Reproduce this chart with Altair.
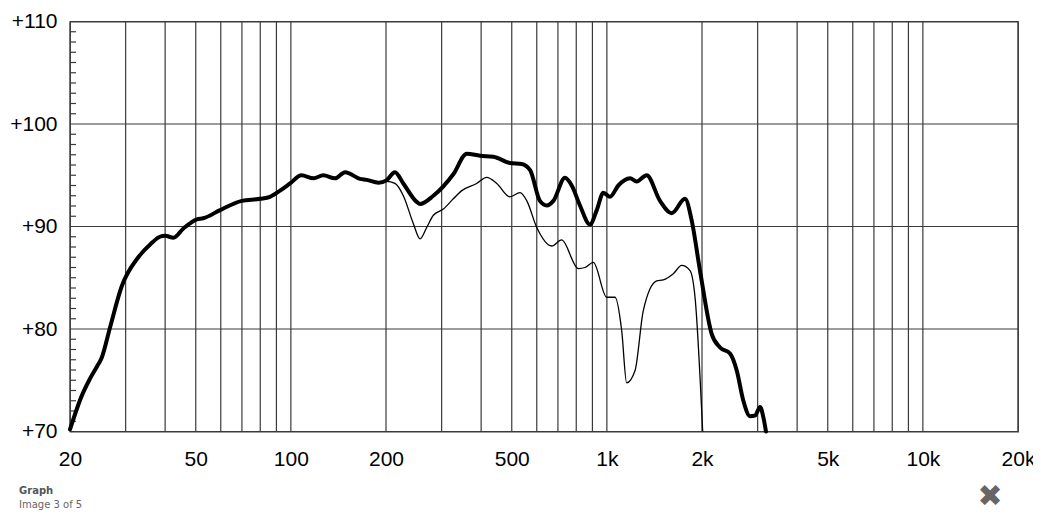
import altair as alt
import pandas as pd

# ---- data ----
thick_freq = [20, 21.8, 23, 24.3, 25.2, 26.8, 29.1, 32.9, 36, 38.5, 40, 42.5, 45.7, 50.4, 52.8,
              59.7, 69.9, 79.9, 85.9, 92.4, 99.4, 108, 118, 126.7, 138, 148.4, 165.5, 173.8,
              189.4, 200.6, 213.5, 226.9, 250.2, 256.3, 282.4, 326.6, 360.3, 396.8, 437.4,
              493.3, 537.4, 571.6, 614, 645, 677, 737, 774, 822, 884, 929, 975, 1023, 1087,
              1184, 1243, 1336, 1473, 1604, 1767, 1855, 1971, 2147, 2281, 2453, 2576, 2703,
              2838, 2944, 3053, 3127, 3188]
thick_db = [70.2, 73.5, 75.0, 76.3, 77.2, 80.2, 84.1, 87.0, 88.3, 89.0, 89.1, 88.9, 89.8, 90.7, 90.8,
            91.6, 92.5, 92.7, 92.9, 93.5, 94.2, 95.0, 94.7, 95.0, 94.7, 95.3, 94.65, 94.55,
            94.26, 94.5, 95.3, 94.2, 92.4, 92.2, 93.0, 95.1, 97.1, 96.9, 96.8,
            96.2, 96.1, 95.5, 92.5, 92.05, 92.5, 94.75, 94.0, 92.05, 90.2, 91.6, 93.3, 92.9, 94.0,
            94.7, 94.4, 95.0, 92.5, 91.3, 92.7, 90.6, 85.7, 79.5, 78.2, 77.6, 75.95, 73.0,
            71.5, 71.56, 72.4, 71.4, 70.0]

thin_freq = [189.4, 200.6, 213.5, 226.9, 244, 256.3, 269, 282.4, 303.7, 326.6, 347.4, 387.3,
             416.6, 448.3, 493.3, 531, 558, 600, 669, 719, 812, 853, 906, 999, 1061, 1114,
             1155, 1228, 1304, 1438, 1508, 1623, 1725, 1833, 1901, 2010]
thin_db = [94.26, 94.4, 94.2, 93.0, 90.3, 88.8, 89.9, 91.1, 91.7, 92.7, 93.5, 94.2,
           94.8, 94.2, 92.9, 93.3, 92.5, 89.9, 88.1, 88.7, 85.9, 86.0, 86.5, 83.1, 83.1, 79.85,
           74.75, 75.95, 81.8, 84.7, 84.8, 85.4, 86.2, 85.7, 83.1, 70.0]

x_grid = [20, 30, 40, 50, 60, 70, 80, 90, 100, 200, 300, 400, 500, 600, 700, 800, 900,
          1000, 2000, 3000, 4000, 5000, 6000, 7000, 8000, 9000, 10000, 20000]
y_grid = [70, 80, 90, 100, 110]
y_minor = [71, 72, 73, 74, 75, 76, 77, 78, 79, 81, 82, 83, 84, 85, 86, 87, 88, 89,
           91, 92, 93, 94, 95, 96, 97, 98, 99, 101, 102, 103, 104, 105, 106, 107, 108, 109]
x_tick_values = [20, 50, 100, 200, 500, 1000, 2000, 5000, 10000, 20000]
x_tick_labels = ["20", "50", "100", "200", "500", "1k", "2k", "5k", "10k", "20k"]
y_tick_values = [70, 80, 90, 100, 110]
y_tick_labels = ["+70", "+80", "+90", "+100", "+110"]
footer_title = ["Graph"]
footer_sub = ["Image 3 of 5"]
close_icon = ["\u2716"]


def label_expr(values, labels):
    expr = "''"
    for v, l in reversed(list(zip(values, labels))):
        expr = f"(abs(datum.value - {v}) < 0.001 ? '{l}' : {expr})"
    return expr


GRID = "#3a3a3a"
FONT = "Liberation Sans"

xscale = alt.Scale(type="log", domain=[20, 20000], nice=False)
yscale = alt.Scale(domain=[70, 110], nice=False, zero=False)

x_axis = alt.Axis(values=x_tick_values, labelExpr=label_expr(x_tick_values, x_tick_labels),
                  domain=False, ticks=False, grid=False, title=None, labelFont=FONT,
                  labelFontSize=21, labelColor="black", labelPadding=17, labelFlush=False,
                  labelOverlap=False, labelBaseline="top")
y_axis = alt.Axis(values=y_tick_values, labelExpr=label_expr(y_tick_values, y_tick_labels),
                  domain=False, ticks=False, grid=False, title=None, labelFont=FONT,
                  labelFontSize=21, labelColor="black", labelPadding=13, labelFlush=False,
                  labelOverlap=False, labelBaseline="middle")


def X():
    return alt.X("f:Q", scale=xscale, axis=x_axis)


def Y():
    return alt.Y("db:Q", scale=yscale, axis=y_axis)


df_thick = pd.DataFrame({"f": thick_freq, "db": thick_db})
df_thin = pd.DataFrame({"f": thin_freq, "db": thin_db})

thick = alt.Chart(df_thick).mark_line(color="black", strokeWidth=4, interpolate="monotone",
                                      strokeJoin="round", strokeCap="round").encode(x=X(), y=Y())
vgrid = alt.Chart(pd.DataFrame({"f": x_grid})).mark_rule(color=GRID, strokeWidth=1.2).encode(x=X())
hgrid = alt.Chart(pd.DataFrame({"db": y_grid})).mark_rule(color=GRID, strokeWidth=1.2).encode(y=Y())
minor = alt.Chart(pd.DataFrame({"db": y_minor})).mark_rule(color=GRID, strokeWidth=1.2).encode(
    y=Y(), x=alt.value(0), x2=alt.value(6))
thin = alt.Chart(df_thin).mark_line(color="black", strokeWidth=1.3, interpolate="monotone").encode(
    x=X(), y=Y())

t1 = alt.Chart(pd.DataFrame({"t": footer_title})).mark_text(
    align="left", baseline="middle", font="DejaVu Sans", fontSize=10, fontWeight="bold",
    color="#555555").encode(x=alt.value(-51), y=alt.value(469), text="t:N")
t2 = alt.Chart(pd.DataFrame({"t": footer_sub})).mark_text(
    align="left", baseline="middle", font="DejaVu Sans", fontSize=10,
    color="#666666").encode(x=alt.value(-51), y=alt.value(483.5), text="t:N")
icon = alt.Chart(pd.DataFrame({"t": close_icon})).mark_text(
    align="center", baseline="middle", font="DejaVu Sans", fontSize=30,
    color="#666666").encode(x=alt.value(920), y=alt.value(475), text="t:N")

chart = alt.layer(vgrid, hgrid, minor, thin, thick, t1, t2, icon).properties(
    width=948, height=410,
    autosize=alt.AutoSizeParams(type="none"),
    padding={"left": 62, "top": 13.5, "right": 15, "bottom": 80},
    background="white",
).configure_view(stroke=GRID, strokeWidth=1.2)

chart.save("out.html", embed_options={"renderer": "svg", "actions": False})
